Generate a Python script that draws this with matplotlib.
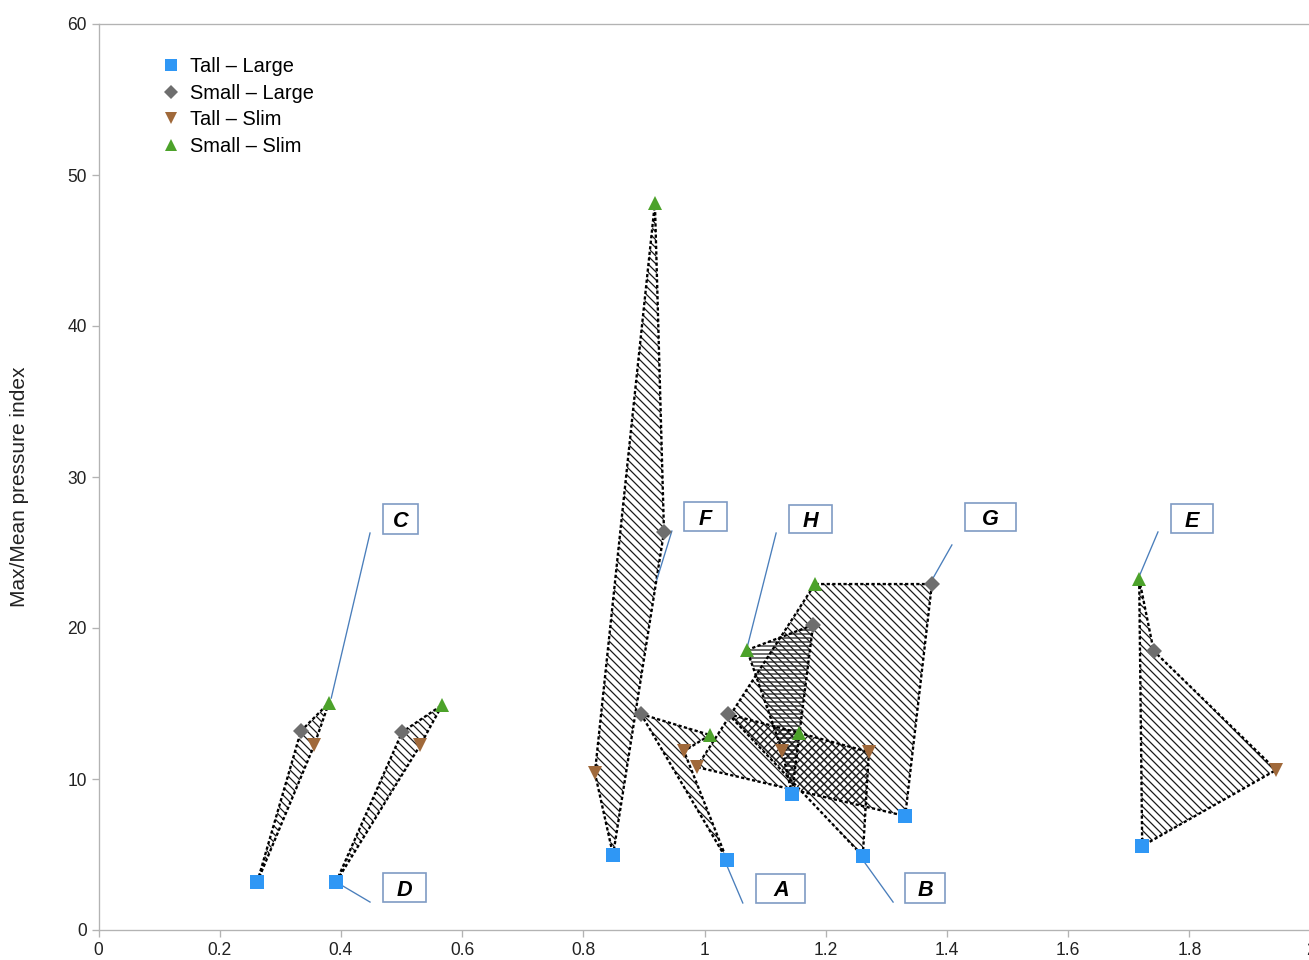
import matplotlib
matplotlib.use("Agg")
import matplotlib.pyplot as plt
from matplotlib.patches import Polygon, Rectangle
from matplotlib.lines import Line2D

plt.rcParams['font.family'] = ['Liberation Sans', 'DejaVu Sans']
plt.rcParams['hatch.linewidth'] = 0.75

# ---- data: one point per configuration for each group ----
groups = ['A', 'B', 'C', 'D', 'E', 'F', 'G', 'H']
series_names = ['Tall – Large', 'Small – Large', 'Tall – Slim', 'Small – Slim']

# x = group parameter, y = Max/Mean pressure index
tall_large_x = [1.037, 1.261, 0.262, 0.392, 1.722, 0.849, 1.331, 1.144]
tall_large_y = [4.64, 4.90, 3.18, 3.18, 5.56, 4.97, 7.55, 9.01]
small_large_x = [0.895, 1.039, 0.334, 0.501, 1.741, 0.933, 1.375, 1.179]
small_large_y = [14.3, 14.3, 13.18, 13.11, 18.48, 26.36, 22.91, 20.2]
tall_slim_x = [0.966, 1.271, 0.356, 0.531, 1.943, 0.819, 0.987, 1.128]
tall_slim_y = [11.85, 11.79, 12.25, 12.25, 10.6, 10.4, 10.79, 11.85]
small_slim_x = [1.009, 1.156, 0.380, 0.567, 1.717, 0.918, 1.182, 1.070]
small_slim_y = [12.91, 13.05, 15.03, 14.9, 23.25, 48.15, 22.91, 18.54]

x_ticks = [0, 0.2, 0.4, 0.6, 0.8, 1, 1.2, 1.4, 1.6, 1.8, 2]
y_ticks = [0, 10, 20, 30, 40, 50, 60]

# ---- styling / layout ----
# vertex order of each group's outline (0 = Tall-Large, 1 = Small-Large,
# 2 = Tall-Slim, 3 = Small-Slim)
outline_order = {
    'A': [1, 3, 2, 0], 'B': [1, 3, 2, 0], 'C': [0, 1, 3, 2], 'D': [0, 1, 3, 2],
    'E': [3, 1, 2, 0], 'F': [2, 3, 1, 0], 'G': [2, 3, 1, 0], 'H': [3, 1, 0, 2],
}
hatch_style = {g: '\\' * 5 for g in groups}
hatch_style['H'] = '-' * 5

# label box: centre (data units), box size (pixels), leader line ends (data)
label_layout = {
    'A': ((1.126, 2.75), (49, 29), (1.063, 1.79), (1.037, 4.24)),
    'B': ((1.364, 2.78), (40, 30), (1.311, 1.85), (1.261, 4.64)),
    'C': ((0.498, 27.22), (35, 30), (0.448, 26.29), (0.384, 15.36)),
    'D': ((0.505, 2.81), (43, 29), (0.448, 1.85), (0.392, 3.18)),
    'E': ((1.804, 27.25), (42, 29), (1.748, 26.36), (1.718, 23.51)),
    'F': ((1.001, 27.38), (43, 29), (0.946, 26.42), (0.921, 23.18)),
    'G': ((1.472, 27.35), (51, 28), (1.408, 25.50), (1.377, 23.31)),
    'H': ((1.175, 27.22), (43, 28), (1.118, 26.29), (1.070, 18.68)),
}

colors = ['#2f97f5', '#6e6e6e', '#a0693a', '#4ca22a']
markers = ['s', 'D', 'v', '^']
msizes = [8.0, 6.5, 8.5, 8.5]

xs = [tall_large_x, small_large_x, tall_slim_x, small_slim_x]
ys = [tall_large_y, small_large_y, tall_slim_y, small_slim_y]

W, H = 1309, 960
DPI = 120
fig = plt.figure(figsize=(W / DPI, H / DPI), dpi=DPI)
ax = fig.add_axes([98.5 / W, 30 / H, 1212.2 / W, 906 / H])
ax.set_xlim(0, 2)
ax.set_ylim(0, 60)
px_x = 1212.2 / 2.0   # pixels per x unit
px_y = 906 / 60.0     # pixels per y unit

patches = {}
for i, g in enumerate(groups):
    pts = [(xs[k][i], ys[k][i]) for k in outline_order[g]]
    poly = Polygon(pts, closed=True, fill=False, edgecolor='#1a1a1a',
                   linewidth=0, hatch=hatch_style[g], zorder=2)
    ax.add_patch(poly)
    patches[g] = poly
    px = [p[0] for p in pts] + [pts[0][0]]
    py = [p[1] for p in pts] + [pts[0][1]]
    ax.plot(px, py, color='black', linewidth=1.4,
            linestyle=(0, (1.4, 1.0)), zorder=3)

# where B lies over G the two hatchings cross
i_b = groups.index('B')
b_pts = [(xs[k][i_b], ys[k][i_b]) for k in outline_order['B']]
cross = Polygon(b_pts, closed=True, fill=False, edgecolor='#1a1a1a',
                linewidth=0, hatch='/' * 5, zorder=2)
ax.add_patch(cross)
cross.set_clip_path(patches['G'])

for k in range(4):
    ax.plot(xs[k], ys[k], linestyle='none', marker=markers[k],
            markersize=msizes[k], color=colors[k], markeredgewidth=0,
            zorder=5, label=series_names[k])

for g in groups:
    (cx, cy), (bw, bh), (lx0, ly0), (lx1, ly1) = label_layout[g]
    ax.plot([lx0, lx1], [ly0, ly1], color='#4a7ebb', linewidth=0.8, zorder=4)
    dw, dh = bw / px_x, bh / px_y
    ax.add_patch(Rectangle((cx - dw / 2, cy - dh / 2), dw, dh,
                           facecolor='white', edgecolor='#7f9bc4',
                           linewidth=1.0, zorder=6))
    ax.text(cx, cy, g, fontsize=13, fontweight='bold', fontstyle='italic',
            ha='center', va='center_baseline', zorder=7, color='black')

ax.set_xticks(x_ticks)
ax.set_xticklabels([f'{t:g}' for t in x_ticks])
ax.set_yticks(y_ticks)

for side in ['left', 'bottom', 'top']:
    ax.spines[side].set_color('#b3b3b3')
    ax.spines[side].set_linewidth(0.8)
ax.spines['right'].set_visible(False)
ax.tick_params(axis='both', colors='#b3b3b3', length=4, width=0.8,
               labelcolor='#222222', labelsize=10.5, pad=3)

fig.text(20 / W, 1 - 487 / H, 'Max/Mean pressure index', rotation=90,
         ha='center', va='center', fontsize=12.5, color='#222222')

handles = [Line2D([], [], linestyle='none', marker=markers[k],
                  markersize=msizes[k] * 0.85, color=colors[k],
                  markeredgewidth=0) for k in range(4)]
ax.legend(handles, series_names, loc='upper left',
          bbox_to_anchor=(161 / W, 1 - 57 / H),
          bbox_transform=fig.transFigure, frameon=False, fontsize=12,
          handlelength=1.0, handletextpad=0.45, labelspacing=0.38,
          borderpad=0, borderaxespad=0)

fig.savefig('out.png', dpi=DPI)
